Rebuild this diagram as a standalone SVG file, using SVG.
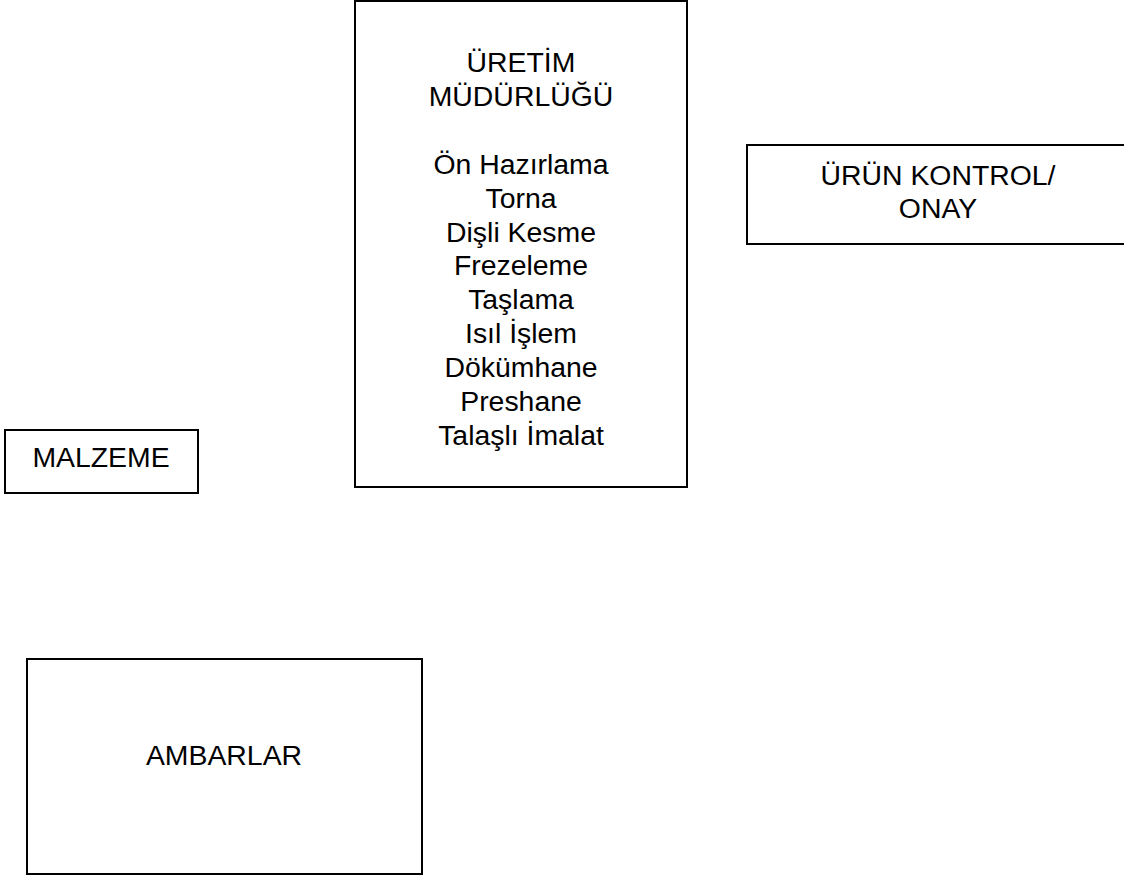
<svg xmlns="http://www.w3.org/2000/svg" width="1124" height="879" viewBox="0 0 1124 879">
  <style>
    .box { fill: #ffffff; stroke: #000000; stroke-width: 2; }
    .lbl { font-family: "Liberation Sans", Arial, sans-serif; font-size: 28.4px; fill: #000000; text-anchor: middle; }
  </style>
  <rect x="0" y="0" width="1124" height="879" fill="#ffffff"/>

  <g id="uretim">
    <rect class="box" x="355" y="1" width="332" height="486"/>
    <text class="lbl" x="521" y="72">ÜRETİM</text>
    <text class="lbl" x="521" y="106">MÜDÜRLÜĞÜ</text>
    <text class="lbl" x="521" y="174">Ön Hazırlama</text>
    <text class="lbl" x="521" y="208">Torna</text>
    <text class="lbl" x="521" y="242">Dişli Kesme</text>
    <text class="lbl" x="521" y="275">Frezeleme</text>
    <text class="lbl" x="521" y="309">Taşlama</text>
    <text class="lbl" x="521" y="343">Isıl İşlem</text>
    <text class="lbl" x="521" y="377">Dökümhane</text>
    <text class="lbl" x="521" y="411">Preshane</text>
    <text class="lbl" x="521" y="445">Talaşlı İmalat</text>
  </g>

  <g id="urun-kontrol">
    <rect class="box" x="747" y="145" width="382" height="99"/>
    <text class="lbl" x="938" y="185">ÜRÜN KONTROL/</text>
    <text class="lbl" x="938" y="218">ONAY</text>
  </g>

  <g id="malzeme">
    <rect class="box" x="5" y="430" width="193" height="63"/>
    <text class="lbl" x="101" y="467">MALZEME</text>
  </g>

  <g id="ambarlar">
    <rect class="box" x="27" y="659" width="395" height="215"/>
    <text class="lbl" x="224" y="765">AMBARLAR</text>
  </g>

  <g id="connectors"></g>
</svg>
